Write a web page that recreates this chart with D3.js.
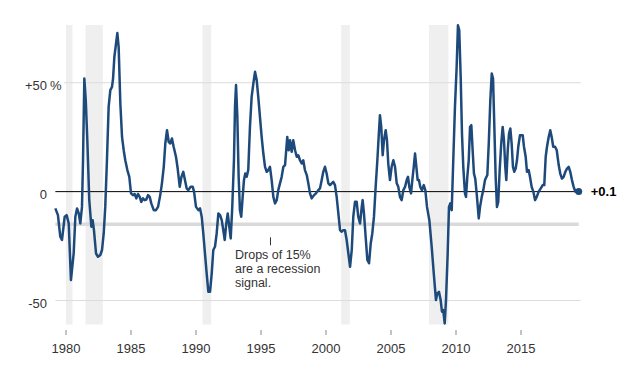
<!DOCTYPE html>
<html>
<head>
<meta charset="utf-8">
<script src="https://cdn.jsdelivr.net/npm/d3@7"></script>
<style>
  body { margin: 0; background: #fff; }
  svg { display: block; font-family: "Liberation Sans", Arial, sans-serif; }
</style>
</head>
<body>
<svg id="chart" width="638" height="366"></svg>
<script>
// dates as decimal years, values in % change
const years = [
  1979.18, 1979.38, 1979.56, 1979.69, 1979.90, 1980.05, 1980.21, 1980.38, 1980.59, 1980.72,
  1980.85, 1980.98, 1981.10, 1981.23, 1981.31, 1981.41, 1981.52, 1981.64, 1981.79, 1981.95,
  1982.05, 1982.15, 1982.31, 1982.46, 1982.64, 1982.77, 1982.90, 1983.02, 1983.15, 1983.28,
  1983.41, 1983.54, 1983.62, 1983.72, 1983.85, 1983.95, 1984.05, 1984.18, 1984.31, 1984.44,
  1984.56, 1984.72, 1984.87, 1985.00, 1985.15, 1985.28, 1985.41, 1985.54, 1985.67, 1985.79,
  1985.92, 1986.05, 1986.18, 1986.31, 1986.44, 1986.56, 1986.75, 1986.92, 1987.08, 1987.25,
  1987.38, 1987.52, 1987.64, 1987.77, 1987.90, 1988.02, 1988.15, 1988.28, 1988.46, 1988.59,
  1988.75, 1988.88, 1989.02, 1989.15, 1989.28, 1989.41, 1989.59, 1989.75, 1989.85, 1990.00,
  1990.18, 1990.31, 1990.44, 1990.56, 1990.69, 1990.82, 1990.95, 1991.08, 1991.21, 1991.33,
  1991.46, 1991.59, 1991.72, 1991.85, 1991.98, 1992.10, 1992.21, 1992.33, 1992.44, 1992.56,
  1992.67, 1992.79, 1992.92, 1993.00, 1993.08, 1993.18, 1993.28, 1993.38, 1993.48, 1993.59,
  1993.69, 1993.79, 1993.90, 1994.02, 1994.15, 1994.28, 1994.41, 1994.54, 1994.67, 1994.79,
  1994.92, 1995.05, 1995.18, 1995.31, 1995.44, 1995.56, 1995.69, 1995.82, 1995.95, 1996.08,
  1996.21, 1996.33, 1996.46, 1996.59, 1996.72, 1996.85, 1996.92, 1997.02, 1997.13, 1997.23,
  1997.36, 1997.48, 1997.62, 1997.75, 1997.87, 1998.00, 1998.13, 1998.25, 1998.38, 1998.52,
  1998.64, 1998.77, 1998.90, 1999.08, 1999.23, 1999.41, 1999.54, 1999.67, 1999.79, 1999.92,
  2000.05, 2000.18, 2000.31, 2000.44, 2000.56, 2000.69, 2000.82, 2000.95, 2001.08, 2001.21,
  2001.33, 2001.46, 2001.59, 2001.72, 2001.85, 2001.98, 2002.10, 2002.23, 2002.36, 2002.48,
  2002.62, 2002.75, 2002.82, 2002.92, 2003.05, 2003.18, 2003.31, 2003.44, 2003.56, 2003.69,
  2003.82, 2003.95, 2004.05, 2004.15, 2004.25, 2004.36, 2004.46, 2004.59, 2004.69, 2004.79,
  2004.92, 2005.05, 2005.18, 2005.31, 2005.44, 2005.56, 2005.69, 2005.82, 2005.95, 2006.08,
  2006.21, 2006.31, 2006.41, 2006.54, 2006.64, 2006.75, 2006.85, 2006.95, 2007.05, 2007.15,
  2007.25, 2007.38, 2007.52, 2007.64, 2007.77, 2007.95, 2008.13, 2008.31, 2008.46, 2008.56,
  2008.69, 2008.82, 2008.92, 2009.02, 2009.13, 2009.23, 2009.36, 2009.46, 2009.56, 2009.67,
  2009.79, 2009.92, 2010.05, 2010.15, 2010.25, 2010.36, 2010.46, 2010.56, 2010.69, 2010.77,
  2010.87, 2010.98, 2011.08, 2011.18, 2011.28, 2011.38, 2011.48, 2011.59, 2011.75, 2011.85,
  2011.98, 2012.10, 2012.23, 2012.41, 2012.52, 2012.64, 2012.75, 2012.85, 2012.95, 2013.05,
  2013.15, 2013.25, 2013.36, 2013.48, 2013.59, 2013.69, 2013.79, 2013.87, 2013.98, 2014.08,
  2014.18, 2014.28, 2014.38, 2014.48, 2014.59, 2014.69, 2014.79, 2014.92, 2015.13, 2015.23,
  2015.36, 2015.46, 2015.59, 2015.69, 2015.82, 2015.95, 2016.08, 2016.21, 2016.36, 2016.52,
  2016.67, 2016.79, 2016.90, 2017.00, 2017.13, 2017.25, 2017.36, 2017.48, 2017.62, 2017.75,
  2017.90, 2018.02, 2018.15, 2018.28, 2018.41, 2018.54, 2018.67, 2018.79, 2018.92, 2019.05,
  2019.18, 2019.31, 2019.44
];

const growth = [
  -7.7, -10.8, -20.7, -22.2, -11.5, -10.8, -14.6, -40.6, -28.4, -11.5,
  -7.7, -10, -14.6, -7, 14.4, 51.9, 42, 23.6, -3.9, -16.1,
  -13.1, -17.7, -28.4, -29.9, -29.1, -26.8, -19.2, -7, 14.4, 38.9,
  46.6, 48.1, 51.9, 61.8, 68, 72.8, 66.4, 40.5, 25.1, 19,
  14.4, 9.9, 6.8, -0.8, -1.6, -1.1, -3.1, -1.1, -2.4, -4.7,
  -3.1, -3.9, -3.6, -1.6, -2.4, -5.4, -8.5, -8.5, -7, -1.6,
  3.8, 11.4, 22.1, 28.2, 22.8, 22.1, 24.4, 20.6, 16, 10.6,
  2.2, 6.8, 9.1, 5.3, 1.5, 0.7, 2.2, 2.2, 0, -7,
  -8.5, -7.7, -11.5, -19.2, -28.4, -37.5, -46, -46, -37.5, -26.8,
  -25.3, -19.2, -10, -10.8, -13.1, -17.7, -22.2, -14.6, -10, -16.1,
  -21.5, -7, 14.4, 38.9, 48.9, 34.3, 6.8, -8.5, -11.5, -2.4,
  5.3, 8.3, 6.8, 9.9, 29.7, 43.5, 49.6, 55, 51.1, 43.5,
  34.3, 25.1, 17.5, 11.4, 9.1, 9.9, 11.4, 5.3, -2.4, -5.4,
  -3.9, 0.7, 3.8, 6.8, 11.4, 12.2, 17.5, 25.1, 19, 23.6,
  18.3, 23.6, 19, 16, 16.7, 14.4, 12.9, 14.4, 9.9, 7.6,
  3.8, -0.8, -3.1, -1.6, -0.8, 0.7, 1.5, 5.3, 9.1, 11.4,
  8.3, 3.8, 3, 3.8, 4.5, 3, -2.4, -10, -17.7, -18.4,
  -17.7, -17.7, -22.2, -28.4, -34.5, -26.8, -11.5, -4.7, -4.7, -11.5,
  -14.6, -7, -3.9, -10, -20.7, -31.4, -32.9, -23.8, -19.2, -11.5,
  2.2, 14.4, 25.1, 35.1, 29.7, 16.7, 23.6, 28.2, 23.6, 12.9,
  5.3, 11.4, 14.4, 11.4, 3.8, 2.2, -2.4, -3.9, 0.7, 2.2,
  5.3, 6.8, 2.2, -0.8, 5.3, 11.4, 17.5, 11.4, 5.3, 5.3,
  2.2, 0.7, 3, 0.7, -7, -13.1, -25.3, -39, -49.8, -46.7,
  -46, -49.8, -55.1, -54.4, -60.5, -49.8, -28.4, -7, -5.4, -8.5,
  14.4, 38.9, 57.2, 76.4, 74.1, 52.7, 26.7, 11.4, -0.8, -2.4,
  6.8, 14.4, 29.7, 30.5, 19, 8.3, 6, -0.8, -12.3, -7,
  -2.4, 0.7, 5.3, 7.6, 22.1, 42, 54.2, 51.9, 29.7, 6.8,
  -7, -4.7, 9.9, 22.1, 29.7, 23.6, 11.4, 5.3, 19, 26.7,
  29, 22.1, 11.4, 9.1, 10.6, 14.4, 20.6, 25.9, 25.9, 20.6,
  16, 9.1, 9.9, 6.8, 2.2, 0, -3.9, -2.4, 0, 1.5,
  3, 3, 16, 20.6, 25.1, 28.2, 25.1, 20.6, 20.6, 19,
  12.2, 8.3, 6, 6.8, 9.1, 10.6, 11.4, 9.1, 5.3, 2.2,
  0, 0.7, 0.1
];

const recessions = [
  [1980.0, 1980.5], [1981.5, 1982.83], [1990.5, 1991.17],
  [2001.17, 2001.83], [2007.92, 2009.42]
];
const xTicks = [1980, 1985, 1990, 1995, 2000, 2005, 2010, 2015];
const yTicks = [50, 0, -50];
const signalLevel = -15;
const noteYear = 1995.73;
const noteLines = ["Drops of 15%", "are a recession", "signal."];

const data = years.map((d, i) => ({ year: d, value: growth[i] }));
const last = data[data.length - 1];

const svg = d3.select("#chart");
const x = d3.scaleLinear().domain([1980, 2015]).range([66, 521]);
const y = d3.scaleLinear().domain([-61, 76.5]).range([324.5, 25]);
const [yLo, yHi] = y.domain();
const x0 = x(years[0]), x1 = x(last.year);

// recession bands
svg.append("g").selectAll("rect")
  .data(recessions)
  .join("rect")
  .attr("x", d => x(d[0]))
  .attr("width", d => x(d[1]) - x(d[0]))
  .attr("y", y(yHi))
  .attr("height", y(yLo) - y(yHi))
  .attr("fill", "#efefef");

// gridlines
svg.append("g").selectAll("line")
  .data(yTicks.filter(d => d !== 0))
  .join("line")
  .attr("x1", d => d > 0 ? 64 : x0)
  .attr("x2", x1 + 2)
  .attr("y1", d => y(d))
  .attr("y2", d => y(d))
  .attr("stroke", "#dcdcdc")
  .attr("stroke-width", 1);

// recession signal line
svg.append("line")
  .attr("x1", x0).attr("x2", x1)
  .attr("y1", y(signalLevel)).attr("y2", y(signalLevel))
  .attr("stroke", "#dadada")
  .attr("stroke-width", 3.5);

// zero line
svg.append("line")
  .attr("x1", x0).attr("x2", x1)
  .attr("y1", y(0)).attr("y2", y(0))
  .attr("stroke", "#000")
  .attr("stroke-width", 1);

// y labels
svg.append("g").selectAll("text")
  .data(yTicks)
  .join("text")
  .attr("x", 47)
  .attr("y", d => y(d) + 7)
  .attr("text-anchor", "end")
  .attr("font-size", 13)
  .attr("fill", "#333")
  .text(d => d > 0 ? `+${d}` : `${d}`);

svg.append("text")
  .attr("x", 50)
  .attr("y", y(yTicks[0]) + 7)
  .attr("font-size", 13)
  .attr("fill", "#333")
  .text("%");

// x axis
const xAxis = svg.append("g");
xAxis.selectAll("line")
  .data(xTicks)
  .join("line")
  .attr("x1", d => x(d)).attr("x2", d => x(d))
  .attr("y1", 330).attr("y2", 335)
  .attr("stroke", "#888");
xAxis.selectAll("text")
  .data(xTicks)
  .join("text")
  .attr("x", d => x(d))
  .attr("y", 353)
  .attr("text-anchor", "middle")
  .attr("font-size", 13)
  .attr("fill", "#333")
  .text(d => d);

// the line
const line = d3.line()
  .x(d => x(d.year))
  .y(d => y(d.value))
  .curve(d3.curveLinear);

svg.append("path")
  .datum(data)
  .attr("d", line)
  .attr("fill", "none")
  .attr("stroke", "#1d4a7b")
  .attr("stroke-width", 2.5)
  .attr("stroke-linejoin", "round");

svg.append("circle")
  .attr("cx", x(last.year))
  .attr("cy", y(last.value))
  .attr("r", 3.5)
  .attr("fill", "#1d4a7b");

svg.append("text")
  .attr("x", x(last.year) + 12)
  .attr("y", y(last.value) + 5)
  .attr("font-size", 13)
  .attr("font-weight", "bold")
  .attr("fill", "#000")
  .text(`+${last.value}`);

// annotation
const ny = y(signalLevel);
svg.append("line")
  .attr("x1", x(noteYear)).attr("x2", x(noteYear))
  .attr("y1", ny + 13).attr("y2", ny + 21)
  .attr("stroke", "#333");

svg.append("text")
  .attr("x", x(noteYear) - 35.5)
  .attr("y", ny + 35)
  .attr("font-size", 12.5)
  .attr("fill", "#333")
  .selectAll("tspan")
  .data(noteLines)
  .join("tspan")
  .attr("x", x(noteYear) - 35.5)
  .attr("dy", (d, i) => i === 0 ? 0 : 14)
  .text(d => d);
</script>
</body>
</html>
